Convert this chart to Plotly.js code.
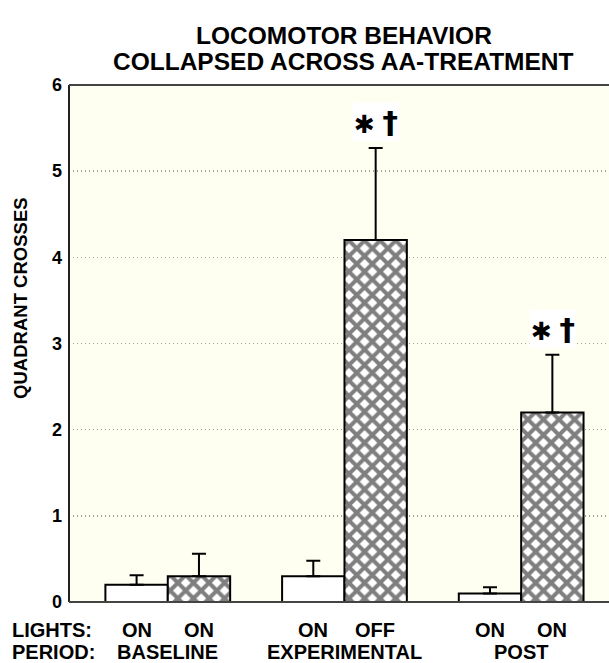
<!DOCTYPE html>
<html>
<head>
<meta charset="utf-8">
<script src="https://cdn.plot.ly/plotly-3.0.1.min.js"></script>
<style>html,body{margin:0;padding:0;background:#fff;}#chart{width:609px;height:663px;}</style>
</head>
<body>
<div id="chart"></div>
<script>
// ---- data ----
const titleLines = ["LOCOMOTOR BEHAVIOR", "COLLAPSED ACROSS AA-TREATMENT"];
const periods = ["BASELINE", "EXPERIMENTAL", "POST"];
const lightsFirst = ["ON", "ON", "ON"];
const lightsSecond = ["ON", "OFF", "ON"];
const firstValues = [0.20, 0.30, 0.10];
const firstErrors = [0.11, 0.18, 0.07];
const secondValues = [0.30, 4.20, 2.20];
const secondErrors = [0.26, 1.07, 0.67];
const sigLabels = [false, true, true];
const yTicks = [0, 1, 2, 3, 4, 5, 6];

const FONT = "Liberation Sans, Arial, sans-serif";
const lbl = {family: FONT, size: 20, color: "#000", weight: "bold"};

const traceFirst = {
  type: "bar", x: periods, y: firstValues,
  marker: {color: "#ffffff", line: {color: "#000", width: 2}},
  error_y: {type: "data", symmetric: false, array: firstErrors, arrayminus: firstValues.map(() => 0),
            color: "#000", thickness: 2, width: 7},
  showlegend: false, hoverinfo: "skip"
};
const traceSecond = {
  type: "bar", x: periods, y: secondValues,
  marker: {color: "#ffffff", line: {color: "#000", width: 2},
           pattern: {shape: "x", fgcolor: "#000", bgcolor: "#ffffff", size: 11, solidity: 0.6, fillmode: "overlay"}},
  error_y: {type: "data", symmetric: false, array: secondErrors, arrayminus: secondValues.map(() => 0),
            color: "#000", thickness: 2, width: 7},
  showlegend: false, hoverinfo: "skip"
};

const annotations = [];
titleLines.forEach((t, i) => {
  annotations.push({x: 0.509, xref: "paper", xanchor: "center", y: 1, yref: "paper", yanchor: "middle",
                    yshift: 50 - 26 * i, text: t, showarrow: false,
                    font: {family: FONT, size: 24.5, color: "#000", weight: "bold"}});
});
periods.forEach((p, i) => {
  annotations.push({x: p, xref: "x", y: 0, yref: "paper", yanchor: "middle", xshift: -31, yshift: -28,
                    text: lightsFirst[i], showarrow: false, font: lbl});
  annotations.push({x: p, xref: "x", y: 0, yref: "paper", yanchor: "middle", xshift: 31, yshift: -28,
                    text: lightsSecond[i], showarrow: false, font: lbl});
  annotations.push({x: p, xref: "x", y: 0, yref: "paper", yanchor: "middle", yshift: -50,
                    text: periods[i], showarrow: false, font: lbl});
  if (sigLabels[i]) {
    annotations.push({x: p, xref: "x", y: secondValues[i] + secondErrors[i], yref: "y", yanchor: "bottom",
                      xshift: 32, yshift: 6, showarrow: false, bgcolor: "#ffffff", borderpad: 1,
                      text: "<span style='font-size:25px'>✱</span>&nbsp;<span style='font-size:31px;font-weight:bold'>†</span>",
                      font: {family: "DejaVu Sans, sans-serif", size: 24, color: "#000"}});
  }
});
annotations.push({x: 0.046, xref: "paper", xanchor: "right", y: 0, yref: "paper", yanchor: "middle", yshift: -28,
                  text: "LIGHTS:", showarrow: false, font: lbl});
annotations.push({x: 0.052, xref: "paper", xanchor: "right", y: 0, yref: "paper", yanchor: "middle", yshift: -50,
                  text: "PERIOD:", showarrow: false, font: lbl});
annotations.push({x: -0.09, xref: "paper", xanchor: "center", y: 0.5, yref: "paper", yanchor: "middle", yshift: 45,
                  text: "QUADRANT CROSSES", textangle: -90, showarrow: false,
                  font: {family: FONT, size: 18.5, color: "#000", weight: "bold"}});

const layout = {
  width: 609, height: 663,
  margin: {l: 69, r: 0, t: 85, b: 61, pad: 0},
  paper_bgcolor: "#ffffff", plot_bgcolor: "#fefef1",
  font: {family: FONT, color: "#000"},
  barmode: "group", bargap: 0.294, bargroupgap: 0,
  xaxis: {type: "category", range: [-0.559, 2.497], showticklabels: false, ticks: "",
          showgrid: false, zeroline: false, showline: false, fixedrange: true},
  yaxis: {range: [0, 6], tickvals: yTicks, ticktext: yTicks.map(String), ticks: "", ticklen: 0,
          ticklabelstandoff: 6,
          tickfont: {family: FONT, size: 18, color: "#000", weight: "bold"}, showgrid: true, gridcolor: "#a0a0a0",
          griddash: "1px,3px", gridwidth: 1.5, zeroline: false, showline: false, fixedrange: true},
  shapes: [
    {type: "line", xref: "paper", yref: "paper", x0: 0, x1: 0, y0: 0, y1: 1, line: {color: "#222", width: 2}},
    {type: "line", xref: "paper", yref: "paper", x0: 0, x1: 1, y0: 1, y1: 1, line: {color: "#444", width: 2}},
    {type: "line", xref: "paper", yref: "paper", x0: 0, x1: 1, y0: 0, y1: 0, line: {color: "#444", width: 2}}
  ],
  annotations: annotations
};

Plotly.newPlot("chart", [traceFirst, traceSecond], layout, {displayModeBar: false, staticPlot: true});
</script>
</body>
</html>
